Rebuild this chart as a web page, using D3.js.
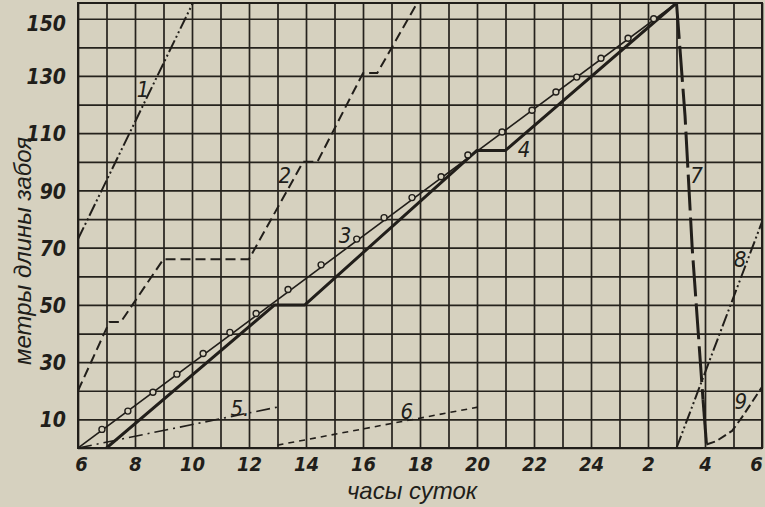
<!DOCTYPE html>
<html>
<head>
<meta charset="utf-8">
<script src="https://cdn.jsdelivr.net/npm/d3@7"></script>
<style>
	body { margin: 0; background: #d6d1bf; }
	svg { display: block; }
	.grid line { stroke: #25221d; stroke-width: 1.7; }
	.grid path { display: none; }
	.num { font-family: "Liberation Sans Narrow", "DejaVu Sans Condensed", sans-serif; font-style: italic; font-weight: bold; fill: #211e1a; }
	.title { font-family: "Liberation Sans", "DejaVu Sans", sans-serif; font-style: italic; fill: #211e1a; }
</style>
</head>
<body>
<div id="svg-div"></div>
<script>
// hours run past midnight: 26 = 2 o'clock, 30 = 6 o'clock next morning
var xTickHours = [6, 8, 10, 12, 14, 16, 18, 20, 22, 24, 26, 28, 30];
var xTickLabels = ["6", "8", "10", "12", "14", "16", "18", "20", "22", "24", "2", "4", "6"];
var yTickValues = [10, 30, 50, 70, 90, 110, 130, 150];

var line1 = [[6, 73], [10.03, 155.5]];
var line2 = [[6, 20], [7.1, 44], [7.5, 44], [9, 66], [12, 66], [13.9, 100], [14.4, 100], [16, 131], [16.5, 131], [17.9, 155.5]];
var line3 = [[6, 0], [27, 155.5]];
var line3Circles = [[6.84, 6.5], [7.75, 12.9], [8.63, 19.5], [9.47, 25.8], [10.39, 33], [11.33, 40.4], [12.25, 47],
	[13.37, 55.4], [14.53, 64], [15.78, 73], [16.74, 80.5], [17.72, 87.5], [18.74, 94.8], [19.68, 102.4],
	[20.88, 110.4], [21.93, 118], [22.77, 124.4], [23.5, 129.6], [24.35, 136.2], [25.3, 143.2], [26.2, 150]];
var line4 = [[7, 0], [12.9, 50], [13.96, 50], [20, 104], [21, 104], [27, 155.5]];
var line5 = [[6, 0], [13, 14.3]];
var line6 = [[13, 1], [20.04, 14.3]];
var line7 = [[27, 155.5], [27.3, 116], [27.55, 70], [27.93, 17]];
var line7Tail = [[27.93, 17], [28.05, 1.5]];
var line8 = [[27, 0], [30, 79]];
var line9 = [[28.05, 1.2], [28.4, 2.4], [28.95, 6], [29.3, 10.8], [30, 21.3]];

var lineLabels = [
	{ text: "1", h: 8.28, v: 122.6 },
	{ text: "2", h: 13.26, v: 92.7 },
	{ text: "3", h: 15.37, v: 71.8 },
	{ text: "4", h: 21.65, v: 101.7 },
	{ text: "5.", h: 11.35, v: 11.1 },
	{ text: "6", h: 17.54, v: 10.1 },
	{ text: "7", h: 27.7, v: 92.7 },
	{ text: "8", h: 29.23, v: 63.4 },
	{ text: "9", h: 29.26, v: 13.6 }
];

var chartProperties = {
	outerWidth: 765,
	outerHeight: 507,
	margin: { top: 3, right: 3, bottom: 59, left: 78 }
};
chartProperties.width = chartProperties.outerWidth - chartProperties.margin.left - chartProperties.margin.right;
chartProperties.height = chartProperties.outerHeight - chartProperties.margin.top - chartProperties.margin.bottom;

var ink = "#211e1a";
var paper = "#d6d1bf";

var svg = d3.select("#svg-div")
	.append("svg")
	.attr("width", chartProperties.outerWidth)
	.attr("height", chartProperties.outerHeight)
	.append("g")
	.attr("transform", "translate(" + chartProperties.margin.left + "," + chartProperties.margin.top + ")");

// Scale
var xScale = d3.scaleLinear()
	.domain([6, 30])
	.range([0, chartProperties.width]);

var yScale = d3.scaleLinear()
	.domain([0, 155.5])
	.range([chartProperties.height, 0]);

svg.append("clipPath")
	.attr("id", "plot-clip")
	.append("rect")
	.attr("width", chartProperties.width)
	.attr("height", chartProperties.height);

// Gridline
var xgridlines = d3.axisBottom()
	.scale(xScale)
	.tickValues(d3.range(6, 31))
	.tickFormat("")
	.tickSize(-chartProperties.height);

var ygridlines = d3.axisLeft()
	.scale(yScale)
	.tickValues(d3.range(0, 151, 10))
	.tickFormat("")
	.tickSize(-chartProperties.width);

svg.append("g")
	.attr("class", "grid")
	.attr("transform", "translate(0," + chartProperties.height + ")")
	.call(xgridlines);

svg.append("g")
	.attr("class", "grid")
	.call(ygridlines);

svg.append("rect")
	.attr("width", chartProperties.width)
	.attr("height", chartProperties.height)
	.attr("fill", "none")
	.attr("stroke", ink)
	.attr("stroke-width", 2);

// Axis labels
var xAxis = d3.axisBottom()
	.scale(xScale)
	.tickValues(xTickHours)
	.tickSize(0)
	.tickPadding(0)
	.tickFormat(function(d, i) { return xTickLabels[i]; });

var gx = svg.append("g")
	.attr("transform", "translate(0," + chartProperties.height + ")")
	.call(xAxis);
gx.select(".domain").remove();
gx.selectAll("text")
	.attr("class", "num")
	.attr("dy", null)
	.attr("y", 23)
	.attr("x", function(d) { return d == 6 ? 3 : (d == 30 ? -6 : 0); })
	.style("font-size", "20px");

var yAxis = d3.axisLeft()
	.scale(yScale)
	.tickValues(yTickValues)
	.tickSize(0)
	.tickPadding(12);

var gy = svg.append("g").call(yAxis);
gy.select(".domain").remove();
gy.selectAll("text")
	.attr("class", "num")
	.attr("dy", function(d) { return d == 150 ? "0.55em" : "0.36em"; })
	.style("font-size", "21px");

svg.append("text")
	.attr("class", "title")
	.attr("x", 412 - chartProperties.margin.left)
	.attr("y", 499 - chartProperties.margin.top)
	.attr("text-anchor", "middle")
	.style("font-size", "24px")
	.text("часы суток");

svg.append("text")
	.attr("class", "title")
	.attr("transform", "translate(" + (31 - chartProperties.margin.left) + "," + (251 - chartProperties.margin.top) + ") rotate(-90)")
	.attr("text-anchor", "middle")
	.style("font-size", "24px")
	.text("метры длины забоя");

// Lines
var line = d3.line()
	.x(function(d) { return xScale(d[0]); })
	.y(function(d) { return yScale(d[1]); });

var plot = svg.append("g").attr("clip-path", "url(#plot-clip)");

function drawLine(data, width, dash) {
	plot.append("path")
		.datum(data)
		.attr("d", line)
		.attr("fill", "none")
		.attr("stroke", ink)
		.attr("stroke-width", width)
		.attr("stroke-linejoin", "round")
		.attr("stroke-dasharray", dash);
}

drawLine(line1, 2, "13,3,2,3,2,3");
drawLine(line2, 2, "10,5");
drawLine(line3, 1.6, null);
drawLine(line4, 3, null);
drawLine(line5, 1.6, "14,5,2,5");
drawLine(line6, 1.6, "6,5");
drawLine(line7, 3, "36,7");
drawLine(line7Tail, 3, null);
drawLine(line8, 2, "13,3,2,3,2,3");
drawLine(line9, 2, "9,4");

plot.selectAll("circle")
	.data(line3Circles)
	.enter()
	.append("circle")
	.attr("cx", function(d) { return xScale(d[0]); })
	.attr("cy", function(d) { return yScale(d[1]); })
	.attr("r", 3)
	.attr("fill", paper)
	.attr("stroke", ink)
	.attr("stroke-width", 1.4);

svg.selectAll(".line-label")
	.data(lineLabels)
	.enter()
	.append("text")
	.attr("class", "num line-label")
	.attr("x", function(d) { return xScale(d.h); })
	.attr("y", function(d) { return yScale(d.v); })
	.attr("text-anchor", function(d) { return d.text == "5." ? "start" : "middle"; })
	.style("font-size", "22px")
	.style("font-weight", "normal")
	.text(function(d) { return d.text; });
</script>
</body>
</html>
